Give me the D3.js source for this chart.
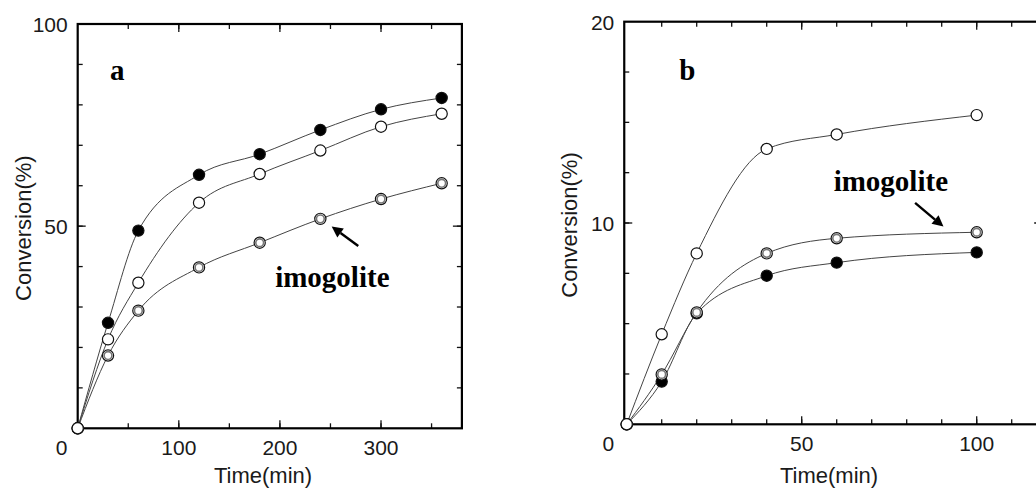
<!DOCTYPE html>
<html>
<head>
<meta charset="utf-8">
<script src="https://cdn.jsdelivr.net/npm/d3@7"></script>
<style>
  body { margin: 0; background: #fff; }
  svg { display: block; }
  .tick-label { font-family: 'Liberation Sans', Arial, sans-serif; font-size: 21px; fill: #1a1a1a; }
  .axis-title { font-family: 'Liberation Sans', Arial, sans-serif; font-size: 22px; fill: #1a1a1a; }
  .note { font-family: 'Liberation Serif', 'Times New Roman', serif; font-weight: bold; font-size: 29px; fill: #000; }
</style>
</head>
<body>
<div id="chart"></div>
<script>
// panel a: conversion vs time (min)
const timeA = [0, 30, 60, 120, 180, 240, 300, 360]
const filledA = [0, 26.1, 48.9, 62.7, 67.8, 73.8, 78.9, 81.7]
const openA = [0, 22.0, 36.0, 55.8, 62.9, 68.7, 74.6, 77.8]
const imogoliteA = [0, 18.0, 29.1, 39.8, 45.9, 51.8, 56.7, 60.6]
const xLabelsA = [100, 200, 300]
const yLabelsA = [50, 100]

// panel b
const timeB = [0, 10, 20, 40, 60, 100]
const openB = [0, 4.47, 8.49, 13.68, 14.4, 15.36]
const imogoliteB = [0, 2.48, 5.56, 8.49, 9.24, 9.54]
const filledB = [0, 2.12, 5.51, 7.38, 8.03, 8.54]
const xLabelsB = [50, 100]
const yLabelsB = [10, 20]

const width = 1036
const height = 491

const svg = d3.select('#chart')
  .append('svg')
  .attr('width', width)
  .attr('height', height)

function drawPanel (opt) {
  const x = d3.scaleLinear().domain(opt.xDomain).range(opt.xRange)
  const y = d3.scaleLinear().domain(opt.yDomain).range(opt.yRange)
  const g = svg.append('g')

  const [x0, x1] = opt.xRange
  const [y0, y1] = opt.yRange

  // inward ticks on all four sides
  function ticks (values, len, side) {
    values.forEach(v => {
      if (side === 'bottom') g.append('line').attr('x1', x(v)).attr('x2', x(v)).attr('y1', y0).attr('y2', y0 - len)
      if (side === 'top') g.append('line').attr('x1', x(v)).attr('x2', x(v)).attr('y1', y1).attr('y2', y1 + len)
      if (side === 'left') g.append('line').attr('y1', y(v)).attr('y2', y(v)).attr('x1', x0).attr('x2', x0 + len)
      if (side === 'right') g.append('line').attr('y1', y(v)).attr('y2', y(v)).attr('x1', x1).attr('x2', x1 - len)
    })
  }
  const xMinor = d3.range(opt.xDomain[0] < 0 ? 0 : 0, opt.xDomain[1], opt.xMinorStep).filter(v => v > 0)
  const yMinor = d3.range(0, opt.yDomain[1], opt.yMinorStep).filter(v => v > 0)
  const xMajor = xMinor.filter(v => v % opt.xMajorStep === 0)
  const yMajor = yMinor.filter(v => v % opt.yMajorStep === 0)
  g.attr('stroke', '#111')
  ticks(xMinor, 5, 'bottom'); ticks(xMajor, 8, 'bottom')
  ticks(xMinor, 5, 'top'); ticks(xMajor, 8, 'top')
  ticks(yMinor, 5, 'left'); ticks(yMajor, 8, 'left')
  ticks(yMinor, 5, 'right'); ticks(yMajor, 9, 'right')
  g.selectAll('line').attr('stroke-width', 1.3)

  // frame
  g.append('rect')
    .attr('x', x0).attr('y', y1)
    .attr('width', x1 - x0).attr('height', y0 - y1)
    .attr('fill', 'none').attr('stroke', '#000').attr('stroke-width', 2.2)

  // tick labels
  const t = svg.append('g')
  t.selectAll('.xl').data(opt.xLabels).enter().append('text')
    .attr('class', 'tick-label').attr('text-anchor', 'middle')
    .attr('x', d => x(d)).attr('y', y0 + 27).text(d => d)
  t.selectAll('.yl').data(opt.yLabels).enter().append('text')
    .attr('class', 'tick-label').attr('text-anchor', 'end')
    .attr('x', x0 - 10).attr('y', d => y(d) + 8).text(d => d)
  t.append('text').attr('class', 'tick-label').attr('text-anchor', 'middle')
    .attr('x', x0 - 16).attr('y', y0 + 27).text('0')

  // axis titles
  t.append('text').attr('class', 'axis-title').attr('text-anchor', 'middle')
    .attr('x', opt.xTitleX).attr('y', 483).text('Time(min)')
  t.append('text').attr('class', 'axis-title').attr('text-anchor', 'middle')
    .attr('transform', `translate(${x0 - 47},${(y0 + y1) / 2 + 2}) rotate(-90)`)
    .text('Conversion(%)')

  // series
  const line = d3.line()
    .x(d => x(d[0]))
    .y(d => y(d[1]))
    .curve(d3.curveMonotoneX)

  opt.series.forEach(s => {
    const pts = opt.time.map((tm, i) => [tm, s.values[i]])
    svg.append('path')
      .attr('d', line(pts))
      .attr('fill', 'none')
      .attr('stroke', '#444')
      .attr('stroke-width', 1)
  })
  opt.series.forEach(s => {
    const pts = opt.time.map((tm, i) => [tm, s.values[i]])
    const m = svg.append('g')
    m.selectAll('circle.o').data(pts).enter().append('circle')
      .attr('cx', d => x(d[0])).attr('cy', d => y(d[1]))
      .attr('r', 5.6)
      .attr('fill', s.kind === 'filled' ? '#000' : '#fff')
      .attr('stroke', '#111')
      .attr('stroke-width', 1.2)
    if (s.kind === 'imogolite') {
      m.selectAll('circle.i').data(pts).enter().append('circle')
        .attr('cx', d => x(d[0])).attr('cy', d => y(d[1]))
        .attr('r', 3.9)
        .attr('fill', '#fff')
        .attr('stroke', '#777')
        .attr('stroke-width', 1.6)
    }
  })

  // panel letter and annotation
  svg.append('text').attr('class', 'note')
    .attr('x', x(opt.letterPos[0])).attr('y', y(opt.letterPos[1])).text(opt.letter)
  svg.append('text').attr('class', 'note')
    .attr('text-anchor', opt.noteAnchor)
    .attr('x', x(opt.notePos[0])).attr('y', y(opt.notePos[1])).text('imogolite')

  const ax1 = x(opt.arrow[0][0]); const ay1 = y(opt.arrow[0][1])
  const ax2 = x(opt.arrow[1][0]); const ay2 = y(opt.arrow[1][1])
  const ang = Math.atan2(ay2 - ay1, ax2 - ax1)
  const hl = 11; const hw = 5.5
  const bx = ax2 - hl * Math.cos(ang); const by = ay2 - hl * Math.sin(ang)
  svg.append('line')
    .attr('x1', ax1).attr('y1', ay1).attr('x2', bx).attr('y2', by)
    .attr('stroke', '#000').attr('stroke-width', 2.4)
  svg.append('path')
    .attr('d', `M${ax2},${ay2}L${bx - hw * Math.sin(ang)},${by + hw * Math.cos(ang)}L${bx + hw * Math.sin(ang)},${by - hw * Math.cos(ang)}Z`)
    .attr('fill', '#000')
}

drawPanel({
  xDomain: [0, 380], xRange: [77.7, 461.9],
  yDomain: [0, 100], yRange: [428.3, 24],
  xMinorStep: 50, xMajorStep: 100,
  yMinorStep: 10, yMajorStep: 50,
  xLabels: xLabelsA, yLabels: yLabelsA,
  xTitleX: 263,
  time: timeA,
  series: [
    { kind: 'filled', values: filledA },
    { kind: 'imogolite', values: imogoliteA },
    { kind: 'open', values: openA }
  ],
  letter: 'a', letterPos: [32, 86.1],
  notePos: [195.3, 34.9], noteAnchor: 'start',
  arrow: [[277.5, 45.1], [251.2, 49.9]]
})

drawPanel({
  xDomain: [-0.7, 119], xRange: [624.25, 1043.2],
  yDomain: [0, 20], yRange: [424.3, 21.7],
  xMinorStep: 10, xMajorStep: 50,
  yMinorStep: 2.5, yMajorStep: 10,
  xLabels: xLabelsB, yLabels: yLabelsB,
  xTitleX: 829,
  time: timeB,
  series: [
    { kind: 'filled', values: filledB },
    { kind: 'imogolite', values: imogoliteB },
    { kind: 'open', values: openB }
  ],
  letter: 'b', letterPos: [15, 17.1],
  notePos: [91.8, 11.6], noteAnchor: 'end',
  arrow: [[82.4, 11.0], [90.5, 9.82]]
})
</script>
</body>
</html>
